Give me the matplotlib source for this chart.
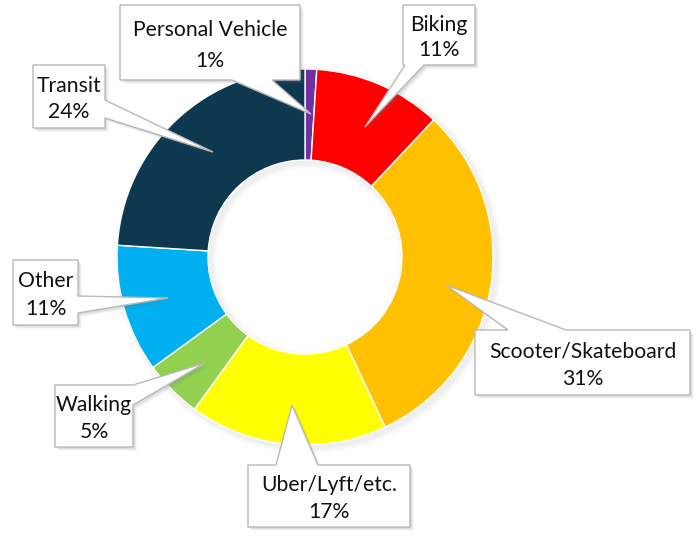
import matplotlib
matplotlib.use("Agg")
import matplotlib.pyplot as plt
from matplotlib.patches import Polygon

categories = ["Personal Vehicle", "Biking", "Scooter/Skateboard", "Uber/Lyft/etc.",
              "Walking", "Other", "Transit"]
shares = [1, 11, 31, 17, 5, 11, 24]
colors = ["#7030A0", "#FF0000", "#FFC000", "#FFFF00", "#92D050", "#00B0F0", "#0E384F"]

W, H = 697, 537
fig = plt.figure(figsize=(W / 100, H / 100), dpi=100)
ax = fig.add_axes([0, 0, 1, 1])
ax.set_axis_off()

def Y(y):
    return H - y

cx, cy, R, hole = 305, 257, 188, 97

# soft shadow of ring
for i, a in enumerate([0.05, 0.04, 0.03]):
    ax.pie([1], colors=["#888888"], radius=R + 2 + 2 * i, center=(cx + 3, Y(cy + 3)),
           wedgeprops=dict(width=R - hole + 4 + 4 * i, alpha=a, linewidth=0))

ax.pie(shares, colors=colors, startangle=90, counterclock=False, radius=R,
       center=(cx, Y(cy)),
       wedgeprops=dict(width=R - hole, edgecolor="white", linewidth=1.0))

# callouts: box (x0,y0,x1,y1), edge, base (a,b) along edge, tip (x,y)
callouts = {
    "Personal Vehicle": ((120, 5, 300, 80), "bottom", (232, 272), (311, 114)),
    "Biking": ((403, 5, 475, 65), "bottom", (405, 424), (365, 127)),
    "Scooter/Skateboard": ((475, 330, 690, 395), "top", (508, 566), (446, 285)),
    "Uber/Lyft/etc.": ((248, 465, 410, 527), "top", (276, 318), (292, 405)),
    "Walking": ((55, 385, 133, 447), "right", (385, 405), (205, 363)),
    "Other": ((13, 260, 78, 325), "right", (296, 313), (168, 298)),
    "Transit": ((33, 65, 105, 128), "right", (100, 118), (213, 152)),
}

def callout_points(box, edge, base, tip):
    x0, y0, x1, y1 = box
    a, b = base
    if edge == "bottom":
        pts = [(x0, y0), (x1, y0), (x1, y1), (b, y1), tip, (a, y1), (x0, y1)]
    elif edge == "top":
        pts = [(x0, y0), (a, y0), tip, (b, y0), (x1, y0), (x1, y1), (x0, y1)]
    elif edge == "right":
        pts = [(x0, y0), (x1, y0), (x1, a), tip, (x1, b), (x1, y1), (x0, y1)]
    else:
        pts = [(x0, y0), (x1, y0), (x1, y1), (x0, y1), (x0, b), tip, (x0, a)]
    return pts

font = dict(family=["Lato", "DejaVu Sans"], fontsize=15.2, color="#111111")
for cat, share in zip(categories, shares):
    box, edge, base, tip = callouts[cat]
    pts = callout_points(box, edge, base, tip)
    for k, a in [(4, 0.06), (3, 0.08), (2, 0.12)]:
        ax.add_patch(Polygon([(x + k, Y(y + k)) for x, y in pts], closed=True,
                             facecolor="#777777", edgecolor="none", alpha=a, zorder=5))
    ax.add_patch(Polygon([(x, Y(y)) for x, y in pts], closed=True,
                         facecolor="white", edgecolor="#b8b8b8", linewidth=1.0, zorder=6))
    x0, y0, x1, y1 = box
    xm = (x0 + x1) / 2
    h = y1 - y0
    ax.text(xm, Y(y0 + h * 0.33), cat, ha="center", va="center", zorder=7, **font)
    ax.text(xm, Y(y0 + h * 0.75), f"{share}%", ha="center", va="center", zorder=7, **font)

ax.set_xlim(0, W)
ax.set_ylim(0, H)
ax.set_aspect("auto")
fig.savefig("out.png", dpi=100)
